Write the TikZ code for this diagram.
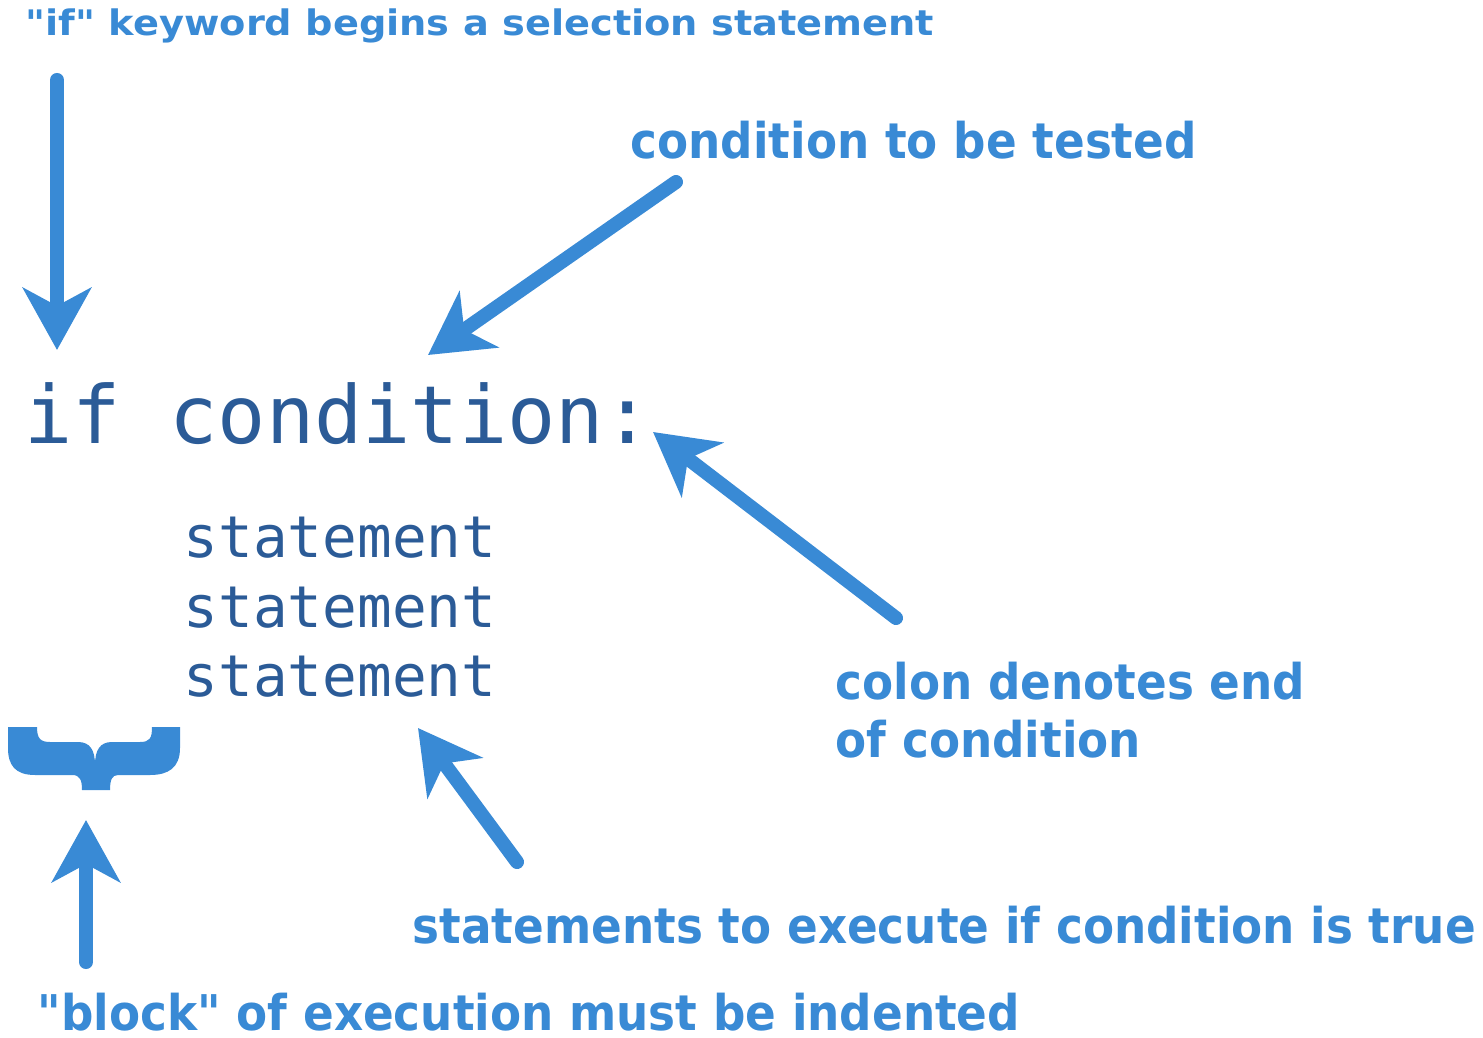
\documentclass[tikz,border=0pt]{standalone}
\usepackage{fontspec}
\usepackage{tikz}
\usetikzlibrary{arrows.meta}
\newfontfamily\labelfont[FakeStretch=0.92]{DejaVu Sans}
\newfontfamily\toplabelfont[FakeStretch=1.09]{DejaVu Sans}
\newfontfamily\codefont{DejaVu Sans Mono}
\definecolor{labelblue}{RGB}{57,138,213}
\definecolor{codeblue}{RGB}{43,91,151}
\tikzset{
  note/.style={anchor=base west,inner sep=0pt,text=labelblue,font=\labelfont\bfseries\fontsize{14}{17}\selectfont},
  code/.style={anchor=base west,inner sep=0pt,text=codeblue,font=\codefont\fontsize{16.4}{20}\selectfont},
  bigarrow/.style={draw=labelblue,line width=0.14cm,line cap=round,
    -{Stealth[length=0.62cm,width=0.68cm,inset=0.18cm]}}
}
\begin{document}
\begin{tikzpicture}[x=0.01cm,y=-0.01cm]
\useasboundingbox (0,0) rectangle (1483,1037);
% code
\node[code,font=\codefont\fontsize{22.8}{26}\selectfont] (ifline) at (24,443) {if condition:};
\node[code] (stmtA) at (183,557) {statement};
\node[code] (stmtB) at (183,627) {statement};
\node[code] (stmtC) at (183,696) {statement};
% labels
\node[note,font=\toplabelfont\bfseries\fontsize{10}{12}\selectfont] (kwlabel) at (25,36) {"if" keyword begins a selection statement};
\node[note] (condlabel) at (630,159) {condition to be tested};
\node[note] (colonlabel) at (835,699) {colon denotes end};
\node[note] (colonlabelb) at (835,757) {of condition};
\node[note] (bodylabel) at (412,943) {statements to execute if condition is true};
\node[note] (blocklabel) at (37,1030) {"block" of execution must be indented};
% arrow ends
\coordinate (kwtail) at (57,80);
\coordinate (kwtip) at (57,350);
\coordinate (condtail) at (676,182);
\coordinate (condtip) at (428,355);
\coordinate (colontail) at (896,618);
\coordinate (colontip) at (653,432);
\coordinate (bodytail) at (517,862);
\coordinate (bodytip) at (418,728);
\coordinate (blocktail) at (86,962);
\coordinate (blocktip) at (86,820);
\draw[bigarrow] (kwtail) -- (kwtip);
\draw[bigarrow] (condtail) -- (condtip);
\draw[bigarrow] (colontail) -- (colontip);
\draw[bigarrow] (bodytail) -- (bodytip);
\draw[bigarrow] (blocktail) -- (blocktip);
% brace
\fill[labelblue] (8,727) -- (37,727) .. controls (37,738) and (40,742) .. (50,742)
  -- (78,742) .. controls (90,742) and (95,750) .. (95,765)
  .. controls (95,750) and (100,742) .. (112,742) -- (140,742)
  .. controls (150,742) and (152,738) .. (152,727) -- (180,727) -- (180,748)
  .. controls (180,768) and (168,775) .. (150,775) -- (118,775)
  .. controls (112,775) and (110,780) .. (110,790) -- (82,790)
  .. controls (82,780) and (80,775) .. (72,775) -- (35,775)
  .. controls (15,775) and (8,765) .. (8,748) -- cycle;
\end{tikzpicture}
\end{document}
